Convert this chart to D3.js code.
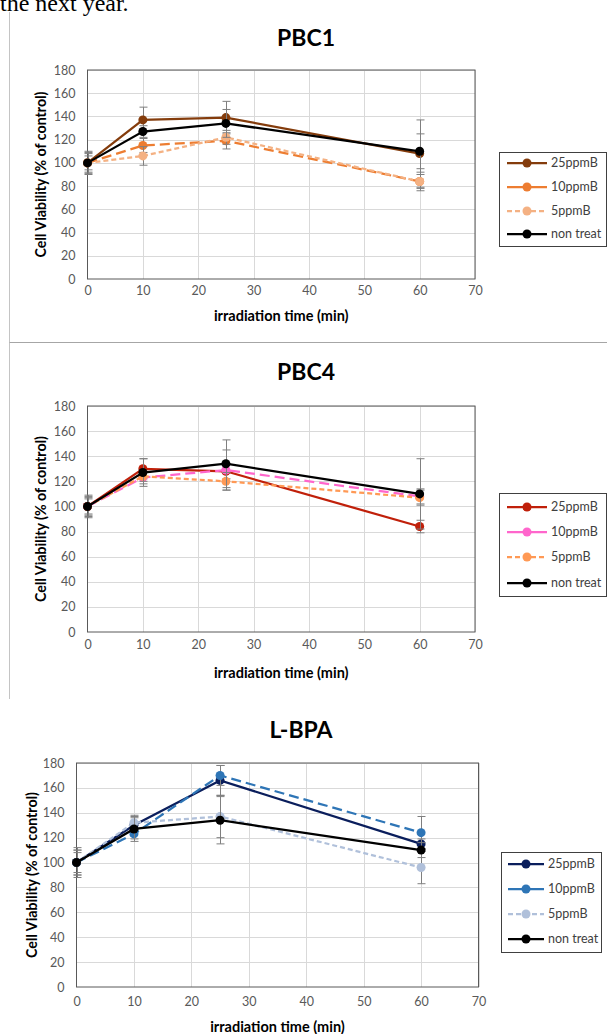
<!DOCTYPE html>
<html>
<head>
<meta charset="utf-8">
<script src="https://cdn.jsdelivr.net/npm/d3@7"></script>
<style>
  body { margin: 0; background: #fff; }
  svg { display: block; }
</style>
</head>
<body>
<script>
// data
const times = [0, 10, 25, 60];
const seriesNames = ["25ppmB", "10ppmB", "5ppmB", "non treat"];
const xTicks = [0, 10, 20, 30, 40, 50, 60, 70];
const yTicks = [0, 20, 40, 60, 80, 100, 120, 140, 160, 180];

const pbc1Values = [
	[100, 137, 139, 108],
	[100, 115, 119, 84],
	[100, 106, 122, 84],
	[100, 127, 134, 110],
];
const pbc1Errors = [
	[9, 11, 14, 29],
	[8, 6, 7, 6],
	[6, 8, 6, 8],
	[10, 5, 12, 15],
];

const pbc4Values = [
	[100, 130, 128, 84],
	[100, 123, 129, 108],
	[100, 124, 120, 107],
	[100, 127, 134, 110],
];
const pbc4Errors = [
	[8, 8, 6, 5],
	[6, 5, 16, 6],
	[7, 4, 7, 6],
	[9, 11, 19, 28],
];

const lbpaValues = [
	[100, 130, 166, 115],
	[100, 123, 170, 124],
	[100, 132, 137, 96],
	[100, 127, 134, 110],
];
const lbpaErrors = [
	[10, 6, 12, 4],
	[8, 4, 8, 13],
	[12, 6, 17, 13],
	[10, 10, 19, 6],
];

const pbc1Colors = ["#843C0C", "#ED7D31", "#F4B183", "#000000"];
const pbc4Colors = ["#C0200A", "#FF66CC", "#FF9955", "#000000"];
const lbpaColors = ["#0A1E5C", "#2E75B6", "#B0C0DA", "#000000"];

const dashes = [null, "10,5", "5,3", null];
const legendDashes = [null, null, "5,3", null];

const W = 607, H = 1034;
const svg = d3.select("body").append("svg").attr("width", W).attr("height", H);

// text clipped at the top of the page
svg.append("text")
	.attr("x", 0).attr("y", 11)
	.attr("font-family", "Liberation Serif, serif")
	.attr("font-size", 24)
	.attr("fill", "#000")
	.text("the next year.");

// table borders
svg.append("line")
	.attr("x1", 9.5).attr("x2", 9.5).attr("y1", 12).attr("y2", 699)
	.attr("stroke", "#C4C4C4").attr("stroke-width", 1);
svg.append("line")
	.attr("x1", 9.5).attr("x2", W).attr("y1", 342.5).attr("y2", 342.5)
	.attr("stroke", "#A6A6A6").attr("stroke-width", 1.2);

const charts = [
	{ title: "PBC1", values: pbc1Values, errors: pbc1Errors, colors: pbc1Colors,
		left: 87.5, right: 475, top: 70, bottom: 279, titleX: 306, titleY: 46,
		xLabOff: 16, xTitleOff: 37, yTitleX: 41,
		legend: { x: 499.5, y: 152.5, w: 107, h: 94, rows: [163, 187, 211, 234], lx1: 507, lx2: 547, tx: 551 } },
	{ title: "PBC4", values: pbc4Values, errors: pbc4Errors, colors: pbc4Colors,
		left: 87.5, right: 475, top: 406, bottom: 632, titleX: 306, titleY: 380,
		xLabOff: 17, xTitleOff: 41, yTitleX: 41,
		legend: { x: 499.5, y: 493.5, w: 107, h: 103, rows: [507, 532, 557, 583], lx1: 507, lx2: 547, tx: 551 } },
	{ title: "L-BPA", values: lbpaValues, errors: lbpaErrors, colors: lbpaColors,
		left: 76.5, right: 478.5, top: 763, bottom: 987, titleX: 301, titleY: 738,
		xLabOff: 19, xTitleOff: 40, yTitleX: 32,
		legend: { x: 501.5, y: 852.5, w: 100, h: 100, rows: [864, 889, 914, 939], lx1: 508, lx2: 544, tx: 548 } },
];

charts.forEach(drawChart);

function drawChart(c) {
	const g = svg.append("g");
	const x = d3.scaleLinear().domain([0, 70]).range([c.left, c.right]);
	const y = d3.scaleLinear().domain([0, 180]).range([c.bottom, c.top]);

	// title
	g.append("text")
		.attr("x", c.titleX).attr("y", c.titleY)
		.attr("text-anchor", "middle")
		.attr("font-family", "Lato, sans-serif")
		.attr("font-weight", "bold")
		.attr("font-size", 23)
		.attr("fill", "#000")
		.text(c.title);

	// grid
	g.selectAll("line.hgrid")
		.data(yTicks.slice(1))
		.join("line")
		.attr("class", "hgrid")
		.attr("x1", c.left).attr("x2", c.right)
		.attr("y1", (d) => Math.round(y(d)) + 0.5)
		.attr("y2", (d) => Math.round(y(d)) + 0.5)
		.attr("stroke", "#D9D9D9").attr("stroke-width", 1);
	g.selectAll("line.vgrid")
		.data(xTicks.slice(1))
		.join("line")
		.attr("class", "vgrid")
		.attr("x1", (d) => Math.round(x(d)) + 0.5)
		.attr("x2", (d) => Math.round(x(d)) + 0.5)
		.attr("y1", c.top).attr("y2", c.bottom)
		.attr("stroke", "#D9D9D9").attr("stroke-width", 1);

	// plot border
	g.append("rect")
		.attr("x", c.left).attr("y", c.top)
		.attr("width", c.right - c.left).attr("height", c.bottom - c.top)
		.attr("fill", "none").attr("stroke", "#595959").attr("stroke-width", 1);

	// axes (labels only, the border acts as axis line)
	const xAxis = g.append("g")
		.attr("transform", `translate(0,${c.bottom + c.xLabOff - 9})`)
		.call(d3.axisBottom(x).tickValues(xTicks).tickSize(0).tickPadding(0));
	const yAxis = g.append("g")
		.attr("transform", `translate(${c.left - 12},0)`)
		.call(d3.axisLeft(y).tickValues(yTicks).tickSize(0).tickPadding(0));
	[xAxis, yAxis].forEach((a) => {
		a.select(".domain").remove();
		a.selectAll("text")
			.attr("font-family", "Lato, sans-serif")
			.attr("font-size", 12.5)
			.attr("fill", "#595959");
	});

	// axis titles
	g.append("text")
		.attr("x", (c.left + c.right) / 2)
		.attr("y", c.bottom + c.xTitleOff + 5)
		.attr("text-anchor", "middle")
		.attr("font-family", "Lato, sans-serif")
		.attr("font-weight", "bold")
		.attr("font-size", 14.5)
		.attr("fill", "#000")
		.text("irradiation time (min)");
	g.append("text")
		.attr("transform", `translate(${c.yTitleX + 5},${(c.top + c.bottom) / 2}) rotate(-90)`)
		.attr("text-anchor", "middle")
		.attr("font-family", "Lato, sans-serif")
		.attr("font-weight", "bold")
		.attr("font-size", 14.2)
		.attr("fill", "#000")
		.text("Cell Viability (% of control)");

	const line = d3.line()
		.x((d) => x(d.t))
		.y((d) => y(d.v));

	c.values.forEach((vals, si) => {
		const pts = times.map((t, i) => ({ t, v: vals[i], e: c.errors[si][i] }));
		const sg = g.append("g");

		// error bars
		pts.forEach((p) => {
			const eb = sg.append("g").attr("stroke", "#7F7F7F").attr("stroke-width", 1);
			const cx = Math.round(x(p.t)) + 0.5;
			eb.append("line")
				.attr("x1", cx).attr("x2", cx)
				.attr("y1", y(p.v - p.e)).attr("y2", y(p.v + p.e));
			[p.v - p.e, p.v + p.e].forEach((v) => {
				eb.append("line")
					.attr("x1", cx - 4).attr("x2", cx + 4)
					.attr("y1", y(v)).attr("y2", y(v));
			});
		});

		sg.append("path")
			.datum(pts)
			.attr("d", line)
			.attr("fill", "none")
			.attr("stroke", c.colors[si])
			.attr("stroke-width", 2.25)
			.attr("stroke-dasharray", dashes[si]);

		sg.selectAll("circle")
			.data(pts)
			.join("circle")
			.attr("cx", (d) => x(d.t))
			.attr("cy", (d) => y(d.v))
			.attr("r", 4.5)
			.attr("fill", c.colors[si]);
	});

	// legend
	const L = c.legend;
	const lg = g.append("g");
	lg.append("rect")
		.attr("x", L.x).attr("y", L.y).attr("width", L.w).attr("height", L.h)
		.attr("fill", "#fff").attr("stroke", "#404040").attr("stroke-width", 1);
	seriesNames.forEach((name, si) => {
		const ry = L.rows[si];
		lg.append("line")
			.attr("x1", L.lx1).attr("x2", L.lx2).attr("y1", ry).attr("y2", ry)
			.attr("stroke", c.colors[si]).attr("stroke-width", 2.25)
			.attr("stroke-dasharray", legendDashes[si]);
		lg.append("circle")
			.attr("cx", (L.lx1 + L.lx2) / 2).attr("cy", ry).attr("r", 4.5)
			.attr("fill", c.colors[si]);
		lg.append("text")
			.attr("x", L.tx).attr("y", ry + 4.3)
			.attr("font-family", "Lato, sans-serif")
			.attr("font-size", 12.5)
			.attr("fill", "#404040")
			.text(name);
	});
}
</script>
</body>
</html>
